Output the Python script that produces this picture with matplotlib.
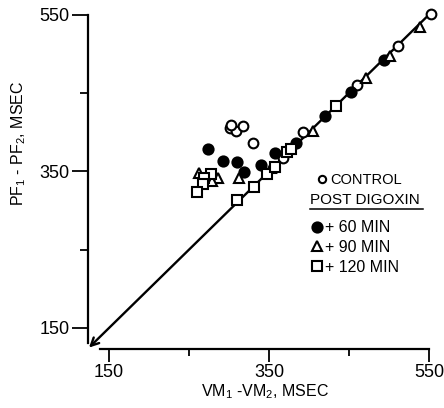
import numpy as np
import matplotlib.pyplot as plt
from matplotlib.lines import Line2D

plt.rcParams["font.family"] = ["Liberation Sans", "DejaVu Sans"]
plt.rcParams["mathtext.default"] = "regular"

# control (open circles)
ctrl_x = [301, 309, 317, 303, 330, 368, 393, 460, 511, 552]
ctrl_y = [405, 402, 408, 409, 386, 367, 400, 460, 510, 551]
# +60 min (filled)
d60_x = [274, 292, 310, 319, 340, 357, 384, 420, 452, 494]
d60_y = [378, 363, 362, 349, 358, 373, 386, 421, 451, 492]
# +90 min (triangles)
d90_x = [263, 286, 279, 313, 353, 405, 471, 501, 539]
d90_y = [348, 341, 338, 342, 354, 402, 469, 497, 534]
# +120 min (squares)
d120_x = [277, 269, 267, 260, 310, 331, 347, 357, 372, 378, 434]
d120_y = [347, 341, 334, 324, 313, 330, 347, 356, 375, 379, 433]

line_x = [125, 550]
line_y = [125, 550]

major_ticks = [150, 350, 550]
minor_ticks = [250, 450]

fig = plt.figure(figsize=(4.44, 4.08), dpi=100)
ax = fig.add_axes([0.1734, 0.1289, 0.8108, 0.8544])
ax.set_xlim(110, 560)
ax.set_ylim(115, 560)

for s in ["top", "right"]:
    ax.spines[s].set_visible(False)
ax.spines["left"].set_position(("data", 124))
ax.spines["left"].set_bounds(131, 550)
ax.spines["bottom"].set_position(("data", 123))
ax.spines["bottom"].set_bounds(139, 550)
ax.spines["left"].set_linewidth(1.6)
ax.spines["bottom"].set_linewidth(1.6)

ax.set_xticks(major_ticks)
ax.set_xticks(minor_ticks, minor=True)
ax.set_yticks(major_ticks)
ax.set_yticks(minor_ticks, minor=True)
ax.tick_params(axis="x", which="major", length=9, width=1.3, pad=2, labelsize=13)
ax.tick_params(axis="x", which="minor", length=5, width=1.3)
ax.tick_params(axis="y", which="major", length=11.5, width=1.3, pad=2, labelsize=13)
ax.tick_params(axis="y", which="minor", length=6, width=1.3)

# identity line with arrow at low end
ax.annotate("", xy=(line_x[0], line_y[0]), xytext=(line_x[1], line_y[1]),
            arrowprops=dict(arrowstyle="->", lw=1.7, color="k",
                            shrinkA=0, shrinkB=0, mutation_scale=14),
            annotation_clip=False)

kw = dict(ls="none", mec="k", mew=1.5, clip_on=False, zorder=3)
h_ctrl, = ax.plot(ctrl_x, ctrl_y, marker="o", ms=7, mfc="white", label="CONTROL", **kw)
h60, = ax.plot(d60_x, d60_y, marker="o", ms=7.3, mfc="k", label="+ 60 MIN", **kw)
h90, = ax.plot(d90_x, d90_y, marker="^", ms=7.5, mfc="white", label="+ 90 MIN", **kw)
h120, = ax.plot(d120_x, d120_y, marker="s", ms=6.5, mfc="white", label="+ 120 MIN", **kw)

ax.set_xlabel("VM$_1$ -VM$_2$, MSEC", fontsize=11.5)
ax.set_ylabel("PF$_1$ - PF$_2$, MSEC", fontsize=11.5)
ax.xaxis.set_label_coords(0.522, -0.078)
ax.yaxis.set_label_coords(-0.135, 0.609)

W, H = 444, 408
leg1 = ax.legend(handles=[h_ctrl], loc="center left", frameon=False,
                 bbox_to_anchor=(317.5 / W, 1 - 180.5 / H), bbox_transform=fig.transFigure,
                 borderpad=0, borderaxespad=0, handlelength=0.6, handletextpad=0.25,
                 markerscale=0.75, fontsize=10.5)
ax.add_artist(leg1)
fig.text(310 / W, 1 - 200.5 / H, "POST DIGOXIN", fontsize=11, ha="left", va="center")
fig.add_artist(Line2D([310 / W, 423 / W], [1 - 209.5 / H, 1 - 209.5 / H], color="k", lw=1.1))
ax.legend(handles=[h60, h90, h120], loc="center left", frameon=False,
          bbox_to_anchor=(311 / W, 1 - 247.5 / H), bbox_transform=fig.transFigure,
          borderpad=0, borderaxespad=0, handlelength=0.7, handletextpad=0.15,
          labelspacing=0.3, markerscale=1.0, fontsize=11.5)

fig.savefig("out.png", dpi=100)
